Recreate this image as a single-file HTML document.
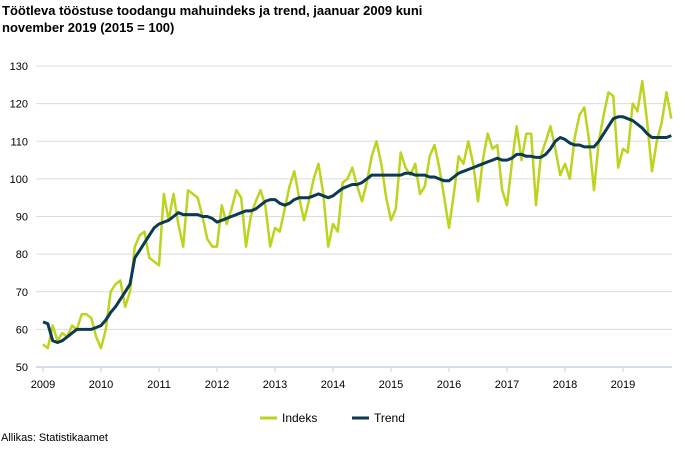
<!DOCTYPE html>
<html><head><meta charset="utf-8"><style>
body{margin:0;background:#fff;font-family:"Liberation Sans",sans-serif;}
#wrap{position:relative;width:685px;height:455px;overflow:hidden;}
.title{position:absolute;left:2px;top:2px;font-size:13px;font-weight:bold;line-height:17px;color:#000;}
.src{position:absolute;left:1px;top:432px;font-size:11px;color:#000;}
</style></head><body>
<div id="wrap">
<div class="title">Töötleva tööstuse toodangu mahuindeks ja trend, jaanuar 2009 kuni<br>november 2019 (2015 = 100)</div>
<svg id="chart" width="685" height="455" style="position:absolute;left:0;top:0"></svg>
<div class="src">Allikas: Statistikaamet</div>
</div>
<script>
const years = ["2009","2010","2011","2012","2013","2014","2015","2016","2017","2018","2019"];
const yTicks = [50,60,70,80,90,100,110,120,130];
const indeks = [
56,55,61,57,59,58,61,60,64,64,63,58,
55,60,70,72,73,66,70,82,85,86,79,78,
77,96,89,96,88,82,97,96,95,90,84,82,
82,93,88,92,97,95,82,90,94,97,93,82,
87,86,92,98,102,95,89,94,100,104,96,82,
88,86,99,100,103,98,94,99,106,110,104,95,
89,92,107,103,101,104,96,98,106,109,103,95,
87,96,106,104,110,104,94,105,112,108,109,97,
93,104,114,105,112,112,93,106,110,114,108,101,
104,100,111,117,119,110,97,110,117,123,122,103,
108,107,120,118,126,115,102,110,115,123,116];
const trend = [
62,61.5,57,56.5,57,58,59,60,60,60,60,60.5,
61,62.5,64.5,66,68,70,72,79,81,83,85,87,
88,88.5,89,90,91,90.5,90.5,90.5,90.5,90,90,89.5,
88.5,89,89.5,90,90.5,91,91.5,91.5,92,93,94,94.5,
94.5,93.5,93,93.5,94.5,95,95,95,95.5,96,95.5,95,
95.5,96.5,97.5,98,98.5,98.5,99,100,101,101,101,101,
101,101,101,101.5,101.5,101,101,101,100.5,100.5,100,99.5,
99.5,100.5,101.5,102,102.5,103,103.5,104,104.5,105,105.5,105,
105,105.5,106.5,106.5,106,106,105.7,105.7,106.5,108,110,111,
110.5,109.5,109,109,108.5,108.5,108.5,110,112,114,116,116.5,
116.5,116,115.5,114.5,113.5,112,111,111,111,111,111.5];

const NS="http://www.w3.org/2000/svg";
const svg=document.getElementById('chart');
const x0=43, perYear=58, y0=367, perTen=37.625;
function xS(i){return x0+i*perYear/12;}
function yS(v){return y0-(v-50)*perTen/10;}
function mk(tag,attrs){const e=document.createElementNS(NS,tag);for(const k in attrs)e.setAttribute(k,attrs[k]);svg.appendChild(e);return e;}

yTicks.forEach(t=>{
  if(t>50){
    const g=mk('line',{x1:36,x2:672,y1:yS(t),y2:yS(t),stroke:'#dcdcdc','stroke-width':1});
    
    
  }
  const tx=mk('text',{x:28,y:yS(t)+4,'text-anchor':'end','font-size':11,'font-family':'Liberation Sans, sans-serif',fill:'#000'});
  tx.textContent=t;
  
  
});
const ax=mk('line',{x1:36,x2:672,y1:y0,y2:y0,stroke:'#c8d2e4','stroke-width':1.5});


years.forEach((yr,i)=>{
  const x=x0+i*perYear;
  const tk=mk('line',{x1:x,x2:x,y1:y0,y2:y0+5,stroke:'#c8d2e4','stroke-width':1});
  
  
  const tx=mk('text',{x:x,y:388,'text-anchor':'middle','font-size':11,'font-family':'Liberation Sans, sans-serif',fill:'#000'});
  tx.textContent=yr;
  
  
});
function path(arr){return arr.map((v,i)=>(i?'L':'M')+xS(i).toFixed(1)+','+yS(v).toFixed(1)).join(' ');}
const pI=mk('path',{d:path(indeks),fill:'none',stroke:'#bdd31f','stroke-width':2.5,'stroke-linejoin':'round'});


const pT=mk('path',{d:path(trend),fill:'none',stroke:'#0b3a52','stroke-width':3,'stroke-linejoin':'round'});



const l1=mk('line',{x1:260,x2:277,y1:418,y2:418,stroke:'#bdd31f','stroke-width':3});


const t1=mk('text',{x:282,y:422,'font-size':12,'font-family':'Liberation Sans, sans-serif',fill:'#000'});
t1.textContent='Indeks';


const l2=mk('line',{x1:352,x2:369,y1:418,y2:418,stroke:'#0b3a52','stroke-width':3});


const t2=mk('text',{x:374,y:422,'font-size':12,'font-family':'Liberation Sans, sans-serif',fill:'#000'});
t2.textContent='Trend';


</script>
</body></html>
